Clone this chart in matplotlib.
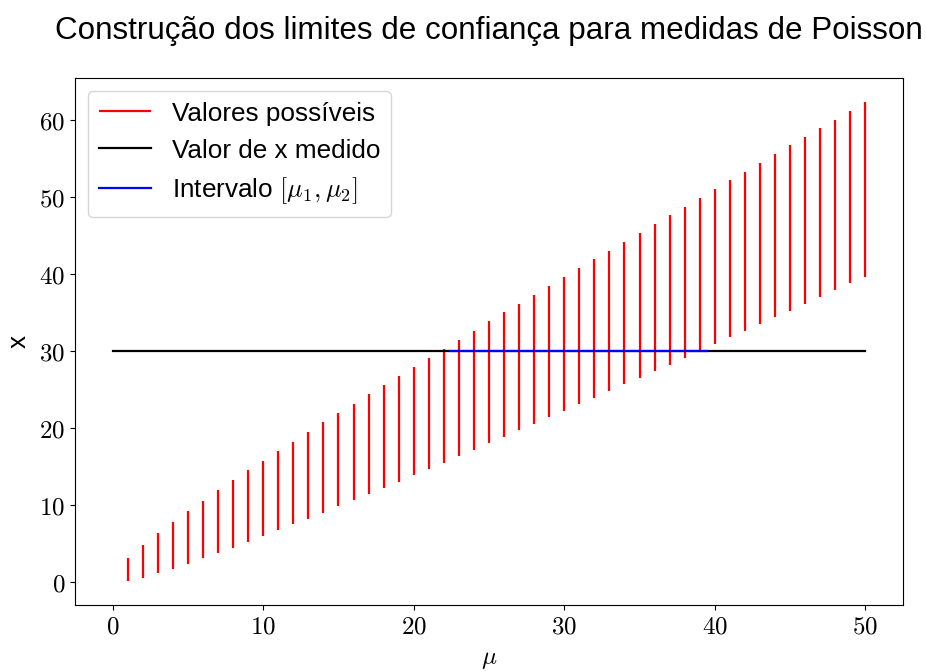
import numpy as np
import matplotlib
matplotlib.use("Agg")
import matplotlib.pyplot as plt
from matplotlib.ticker import FuncFormatter

plt.rcParams['font.family'] = ['Liberation Sans', 'DejaVu Sans']
plt.rcParams['mathtext.fontset'] = 'cm'

mu = np.arange(1, 51)
lower = [0.16, 0.6, 1.16, 1.77, 2.42, 3.1, 3.79, 4.49, 5.22, 6.0,
         6.77, 7.51, 8.28, 9.05, 9.88, 10.66, 11.44, 12.26, 13.07, 13.9,
         14.72, 15.54, 16.36, 17.19, 18.1, 18.87, 19.73, 20.58, 21.44, 22.26,
         23.12, 23.98, 24.84, 25.7, 26.56, 27.42, 28.29, 29.15, 30.06, 30.93,
         31.8, 32.68, 33.59, 34.43, 35.3, 36.16, 37.07, 37.94, 38.84, 39.7]
upper = [3.1, 4.88, 6.38, 7.85, 9.22, 10.6, 11.94, 13.23, 14.53, 15.78,
         17.03, 18.28, 19.53, 20.78, 21.94, 23.19, 24.4, 25.6, 26.77, 27.97,
         29.14, 30.36, 31.5, 32.7, 33.88, 35.05, 36.2, 37.38, 38.5, 39.67,
         40.84, 41.95, 43.1, 44.24, 45.4, 46.5, 47.7, 48.8, 49.93, 51.1,
         52.2, 53.35, 54.47, 55.6, 56.8, 57.86, 59.0, 60.1, 61.24, 62.4]
x_medido = 30
mu_range = [0, 50]
intervalo = [22.4, 39.5]

fig = plt.figure(figsize=(9.26, 6.71), dpi=100)
ax = fig.add_axes([75/926, 1-605/671, (903-75)/926, (605-78)/671])

ax.vlines(mu, lower, upper, color='red', linewidth=1.6, label='Valores possíveis')
ax.plot(mu_range, [x_medido, x_medido], color='black', linewidth=1.6, label='Valor de x medido')
ax.plot(intervalo, [x_medido, x_medido], color='blue', linewidth=1.6, label=r'Intervalo $[\mu_1, \mu_2]$')

ax.set_xticks([0, 10, 20, 30, 40, 50])
ax.set_yticks([0, 10, 20, 30, 40, 50, 60])
fmt = FuncFormatter(lambda v, p: f'${int(round(v))}$')
ax.xaxis.set_major_formatter(fmt)
ax.yaxis.set_major_formatter(fmt)
ax.tick_params(labelsize=18)

ax.set_xlabel(r'$\mu$', fontsize=18, labelpad=6)
ax.set_ylabel('x', fontsize=18.8, labelpad=6)
ax.set_title('Construção dos limites de confiança para medidas de Poisson', fontsize=22.6, pad=28)
ax.legend(loc='upper left', fontsize=18.8)

fig.savefig('out.png', dpi=100)
